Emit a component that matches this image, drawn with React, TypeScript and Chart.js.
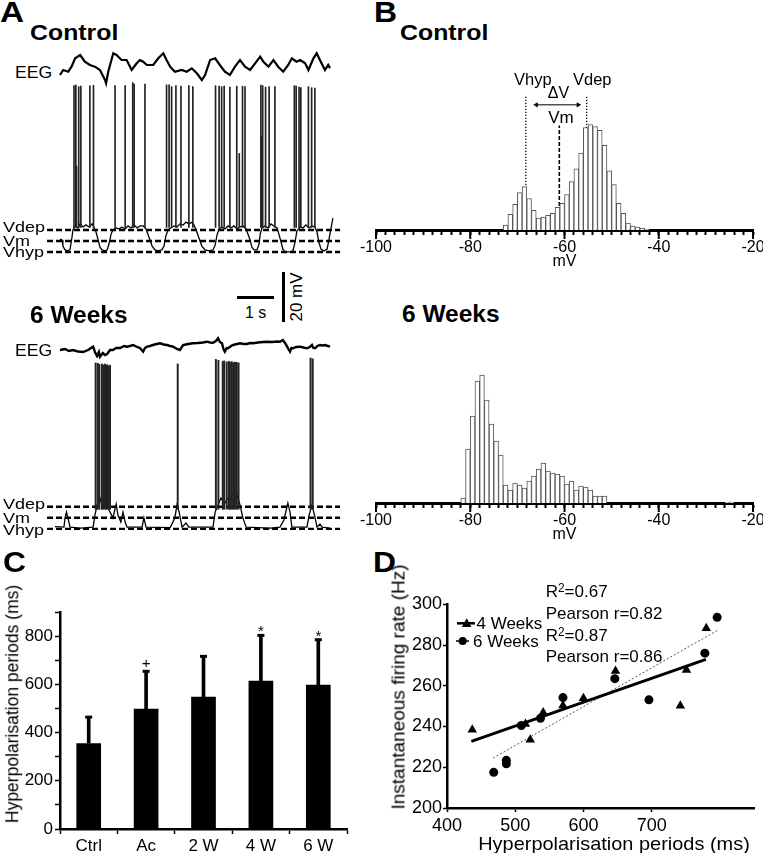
import React, { useEffect, useRef } from 'react';
import { Chart, registerables } from 'chart.js';

Chart.register(...registerables);
const FONT = '"Liberation Sans", Arial, Helvetica, sans-serif';
Chart.defaults.font.family = FONT;
Chart.defaults.color = '#000';

// ---------------- Panel A : traces (time in s, membrane potential in mV) ----------------
const levelLabels = ['Vdep', 'Vm', 'Vhyp'];
const ctrlLevels = [-55, -59.3, -63.6];
const w6Levels = [-55, -59.3, -63.7];
const levelSpan = [-0.36, 7.78];

const ctrlMembrane: [number, number][] = [
  [0, -58.6], [0.06, -58.9], [0.08, -61.3], [0.14, -62.8], [0.22, -63.2], [0.28, -62.5], [0.33, -58.1], [0.36, -55],
  [0.42, -53.4], [0.5, -54.2], [0.56, -52.6], [0.64, -53.8], [0.72, -53], [0.81, -53.8], [0.89, -52.6], [0.94, -53.8],
  [1, -55.8], [1.06, -58.9], [1.11, -61.7], [1.17, -62.8], [1.25, -63.2], [1.31, -62.8], [1.36, -60.5], [1.42, -56.6],
  [1.47, -55], [1.56, -54.2], [1.64, -54.6], [1.72, -53.8], [1.81, -54.6], [1.89, -53.4], [1.97, -54.2], [2.06, -53],
  [2.14, -54.2], [2.22, -53.4], [2.31, -53.4], [2.39, -54.6], [2.44, -56.6], [2.5, -58.9], [2.56, -61.3], [2.64, -62.8],
  [2.72, -63.2], [2.83, -62.8], [2.89, -61.3], [2.94, -57.4], [3, -55], [3.08, -54.2], [3.17, -53.4], [3.25, -53.8],
  [3.33, -52.6], [3.42, -53], [3.5, -51.9], [3.58, -52.6], [3.67, -51.9], [3.72, -53], [3.78, -55], [3.86, -58.1],
  [3.94, -61.3], [4.03, -62.8], [4.14, -63.2], [4.25, -62.8], [4.31, -60.9], [4.36, -57], [4.42, -54.6], [4.5, -53.8],
  [4.58, -54.6], [4.67, -53.4], [4.75, -54.2], [4.83, -53.4], [4.92, -54.6], [5, -53.8], [5.08, -53.4], [5.17, -54.6],
  [5.22, -56.6], [5.28, -58.9], [5.33, -61.7], [5.39, -62.8], [5.47, -62.8], [5.53, -60.5], [5.56, -56.6], [5.61, -54.2],
  [5.69, -53.4], [5.78, -54.2], [5.86, -52.6], [5.94, -53.4], [6.03, -54.2], [6.08, -56.6], [6.14, -59.7], [6.19, -62.5],
  [6.25, -63.6], [6.39, -63.6], [6.47, -63.2], [6.53, -59.7], [6.58, -55.4], [6.67, -53.8], [6.75, -54.2], [6.83, -53],
  [6.92, -54.2], [7, -53.4], [7.08, -53.8], [7.14, -55.8], [7.19, -59.7], [7.25, -62.5], [7.33, -63.2], [7.42, -62.5],
  [7.47, -58.9], [7.53, -54.2], [7.58, -50.3],
];
const ctrlSpikeTimes = [
  0.39, 0.44, 0.46, 0.52, 0.58, 0.83, 0.93,
  1.53, 1.81, 2.02, 2.06, 2.36,
  2.96, 3.03, 3.1, 3.22, 3.36, 3.58, 3.69,
  4.32, 4.42, 4.49, 4.56, 4.72, 4.91, 4.98, 5.07, 5.14,
  5.58, 5.6, 5.63, 5.71, 5.81, 5.97,
  6.51, 6.56, 6.64, 6.69, 6.9, 6.99, 7.08,
];
const ctrlSpikePeaks = [
  1.6, 1.8, -30, 1.2, 1.4, 1.5, 1.7,
  1.6, 1.6, 2.8, 2.2, 2.2,
  1.9, 1.9, 1.2, 1.6, 1.4, 1.6, 1.2,
  1.6, 1.4, 1.2, 1.4, 1.0, 1.4, -25, 1.4, 1.2,
  1.8, -18.5, 1.6, 1.0, 1.2, 1.2,
  1.6, 1.4, 1.0, 0.8, 1.2, 0.8, 0.6,
];
const ctrlEEG: [number, number][] = [
  [0, -7], [0.09, -2], [0.23, -3.7], [0.32, 1.3], [0.42, 9.7], [0.56, 13], [0.69, 6.3], [0.83, 3], [0.97, 1.3],
  [1.11, -2], [1.25, -12], [1.28, -15.3], [1.34, -3.7], [1.48, 14.7], [1.57, 13], [1.71, 8], [1.85, 8], [1.99, -2],
  [2.13, 4.7], [2.22, 8], [2.31, 6.3], [2.41, 3], [2.59, 3], [2.73, 9.7], [2.87, 14.7], [2.96, 8], [3.06, 1.3],
  [3.19, -3.7], [3.38, -2], [3.52, -3.7], [3.66, -0.3], [3.8, -5.3], [3.94, -12], [4.03, -7], [4.17, 8], [4.31, 9.7],
  [4.44, 3], [4.58, -3.7], [4.72, -7], [4.86, 1.3], [5, 8], [5.14, 1.3], [5.28, -2], [5.42, 4.7], [5.56, 11.3],
  [5.65, 6.3], [5.79, 1.3], [5.93, 8], [6.06, 1.3], [6.2, -3.7], [6.34, 3], [6.44, 9.7], [6.57, 6.3], [6.67, 8],
  [6.81, 4.7], [6.9, -2], [7.04, 9.7], [7.13, 14.7], [7.22, 8], [7.36, -2], [7.45, 3], [7.5, -0.3],
];

const w6Membrane: [number, number][] = [
  [-0.14, -62.8], [0.11, -63], [0.14, -59.4], [0.18, -57.1], [0.22, -59.4], [0.28, -63], [0.56, -63.4], [0.92, -63],
  [0.97, -58.3], [1.03, -54.3], [1.11, -51.6], [1.19, -55.5], [1.28, -53.2], [1.36, -56.3], [1.42, -57.9], [1.47, -59.4],
  [1.56, -54], [1.61, -58.3], [1.69, -61], [1.75, -57.1], [1.81, -61], [1.86, -63], [2.28, -63], [2.33, -59.4],
  [2.39, -63], [3.06, -63.2], [3.19, -59.4], [3.25, -54.3], [3.31, -57.1], [3.39, -63], [3.5, -61.4], [3.58, -63],
  [4.25, -63], [4.31, -57.1], [4.39, -54.3], [4.47, -51.6], [4.58, -53.6], [4.69, -51.2], [4.81, -52.8], [4.92, -50.5],
  [5, -54.3], [5.08, -59.4], [5.17, -63], [5.83, -63.4], [6.11, -63], [6.22, -60.2], [6.33, -53.6], [6.39, -57.1],
  [6.44, -63], [6.86, -63], [6.92, -58.3], [7, -54.3], [7.08, -59], [7.14, -63], [7.22, -61.8], [7.28, -63], [7.5, -63.4],
];
const w6SpikeTimes = [
  0.99, 1.05, 1.09, 1.16, 1.2, 1.25, 1.28, 1.31, 1.35, 1.39,
  3.27,
  4.33, 4.4, 4.52, 4.56, 4.63, 4.69, 4.72, 4.77, 4.81, 4.86, 4.91, 4.96,
  6.96, 7.02,
];
const w6SpikePeaks = [
  1.4, 1.2, 0.8, 1.0, 0.6, 0.9, 0.4, 0.7, 0.2, 0.5,
  1.0,
  2.8, 2.4, 2.0, 2.2, 1.8, 2.0, 1.6, 1.9, 1.5, 1.7, 1.6, 1.4,
  3.3, 3.0,
];
const w6EEG: [number, number][] = [
  [0, -2], [0.14, -1], [0.25, -3], [0.36, -2], [0.5, -3.5], [0.64, -4], [0.78, -2], [0.92, 1.3], [0.97, -4],
  [1.03, -8], [1.08, -4], [1.11, -8.7], [1.19, -5], [1.25, -7], [1.31, -6], [1.39, -2], [1.47, -2], [1.56, 0],
  [1.67, 0], [1.78, 2], [1.86, 1.3], [1.94, 2], [2.03, 3], [2.14, 1], [2.22, 0], [2.31, -3.7], [2.36, 0], [2.42, 1.3],
  [2.5, 2], [2.58, 3], [2.69, 4], [2.78, 4.7], [2.88, 3.5], [2.97, 3], [3.06, 2], [3.14, 1.3], [3.25, -1], [3.33, -2],
  [3.42, 3], [3.56, 4], [3.69, 4.7], [3.83, 5], [3.97, 5.5], [4.08, 6.3], [4.17, 5.5], [4.25, 5.3], [4.33, 7],
  [4.39, 9.7], [4.44, 6], [4.5, 4.7], [4.54, -1], [4.58, -3.7], [4.63, 0], [4.67, -0.3], [4.75, 2], [4.81, 3],
  [4.92, 4], [5, 4.7], [5.1, 4], [5.19, 4], [5.28, 5], [5.36, 4.7], [5.5, 5.5], [5.64, 6], [5.75, 6.3], [5.9, 6],
  [6.03, 6.5], [6.11, 6.3], [6.19, 8], [6.25, 5], [6.31, 1.3], [6.36, -2], [6.39, -3.7], [6.43, 0], [6.47, -0.3],
  [6.56, 1], [6.67, 1.3], [6.76, 0.5], [6.86, -0.3], [6.94, 1], [7, 3], [7.04, 0], [7.08, -0.3], [7.15, 2], [7.22, 3],
  [7.29, 2.5], [7.36, 3], [7.44, 2], [7.5, 1.3],
];

// ---------------- Panel B : histograms (1 mV bins, left edge) ----------------
const ctrlBins = [-73, -72, -71, -70, -69, -68, -67, -66, -65, -64, -63, -62, -61, -60, -59, -58, -57, -56, -55, -54, -53, -52, -51, -50, -49, -48, -47, -46, -45, -44, -43];
const ctrlCounts = [5, 16, 26, 38, 44, 32, 20, 12, 13, 15, 17, 23, 27, 36, 49, 62, 78, 104, 107, 105, 101, 86, 60, 46, 27, 17, 7, 4, 3, 2, 1];
const w6Bins = [-82, -81, -80, -79, -78, -77, -76, -75, -74, -73, -72, -71, -70, -69, -68, -67, -66, -65, -64, -63, -62, -61, -60, -59, -58, -57, -56, -55, -54, -53, -52, -26, -25];
const w6Counts = [5, 54, 87, 122, 128, 103, 79, 62, 48, 18, 13, 20, 18, 15, 22, 27, 34, 40, 32, 30, 29, 27, 19, 22, 13, 17, 16, 13, 7, 7, 7, 1, 1];
const ctrlMarkerValues = [-68.2, -61.1, -55.3]; // Vhyp, Vm, Vdep
const ctrlMarkerTops = [137, 106, 137];
const deltaArrow = [-66, -57.1];
const deltaArrowLevel = 127;

// ---------------- Panel C : bar chart ----------------
const barCategories = ['Ctrl', 'Ac', '2 W', '4 W', '6 W'];
const barMeans = [356, 499, 549, 615, 598];
const barErrors = [108, 155, 167, 188, 187];
const sigMarks = ['', '+', '', '*', '*'];

// ---------------- Panel D : scatter ----------------
const weeks4Points: [number, number][] = [
  [437, 238.4], [515, 241.2], [522, 233.5], [541, 246.9], [570, 250.3], [600, 253.9], [647, 267.3], [742, 250.2], [751, 267.8], [780, 288.2],
];
const weeks6Points: [number, number][] = [
  [468.5, 217.5], [487, 221.7], [487, 223.4], [509, 240.5], [537, 244], [570, 254.2], [646, 263.5], [696, 253.1], [778, 276], [796, 293.6],
];
const fit4: [number, number][] = [[435.7, 232.7], [779.5, 273]];
const fit6: [number, number][] = [[467.5, 224.5], [797.6, 287.4]];

// ---------------- helpers ----------------
const T_MIN = -20 / 36;
const T_MAX = 285 / 36;

const common = () => ({
  responsive: false,
  maintainAspectRatio: false,
  animation: false as const,
  devicePixelRatio: 1,
  events: [] as any[],
  plugins: { legend: { display: false }, tooltip: { enabled: false } },
});

function traceConfig(membrane: [number, number][], spikeT: number[], spikeP: number[], spikeBase: number, levels: number[], yMin: number, yMax: number, spikeW: number) {
  return {
    type: 'line',
    data: {
      datasets: [
        {
          type: 'bar',
          data: spikeT.map((t, i) => ({ x: t, y: [spikeBase, spikeP[i]] })),
          backgroundColor: '#222',
          borderWidth: 0,
          barThickness: spikeW,
        },
        {
          data: membrane.map(([t, v]) => ({ x: t, y: v })),
          borderColor: '#000',
          borderWidth: 1.3,
          pointRadius: 0,
          tension: 0,
        },
        ...levels.map((v) => ({
          data: [{ x: levelSpan[0], y: v }, { x: levelSpan[1], y: v }],
          borderColor: '#000',
          borderWidth: 2.4,
          borderDash: [6, 3],
          pointRadius: 0,
        })),
      ],
    },
    options: {
      ...common(),
      layout: { padding: 0 },
      scales: {
        x: { type: 'linear', min: T_MIN, max: T_MAX, display: false, offset: false },
        y: { type: 'linear', min: yMin, max: yMax, display: false },
      },
    },
  };
}

function eegConfig(points: [number, number][], yMin: number, yMax: number, w: number) {
  return {
    type: 'line',
    data: {
      datasets: [{ data: points.map(([t, v]) => ({ x: t, y: v })), borderColor: '#000', borderWidth: w, pointRadius: 0, tension: 0 }],
    },
    options: {
      ...common(),
      layout: { padding: 0 },
      scales: {
        x: { type: 'linear', min: T_MIN, max: T_MAX, display: false },
        y: { type: 'linear', min: yMin, max: yMax, display: false },
      },
    },
  };
}

const majorTicksPlugin = {
  id: 'majorTicks',
  afterDraw(chart: any) {
    const s = chart.scales.x;
    const ctx = chart.ctx;
    ctx.save();
    ctx.strokeStyle = '#000';
    ctx.lineWidth = 2;
    s.ticks.forEach((t: any) => {
      if (t.value % 20 === 0) {
        const px = s.getPixelForValue(t.value);
        ctx.beginPath();
        ctx.moveTo(px, s.top);
        ctx.lineTo(px, s.top + 9);
        ctx.stroke();
      }
    });
    ctx.restore();
  },
};

function histConfig(bins: number[], counts: number[], yMax: number, withMarkers: boolean) {
  const datasets: any[] = [
    {
      type: 'bar',
      data: bins.map((b, i) => ({ x: b + 0.5, y: counts[i] })),
      backgroundColor: '#fff',
      borderColor: '#555',
      borderWidth: 1,
      barPercentage: 1,
      categoryPercentage: 1,
    },
  ];
  if (withMarkers) {
    ctrlMarkerValues.forEach((v, i) => {
      datasets.push({
        type: 'line',
        data: [{ x: v, y: 0 }, { x: v, y: ctrlMarkerTops[i] }],
        borderColor: '#000',
        borderWidth: i === 1 ? 1.6 : 1.3,
        borderDash: i === 1 ? [4, 2] : [1.3, 1.7],
        pointRadius: 0,
      });
    });
    datasets.push({
      type: 'line',
      data: [{ x: deltaArrow[0], y: deltaArrowLevel }, { x: deltaArrow[1], y: deltaArrowLevel }],
      borderColor: '#000',
      borderWidth: 1,
      pointStyle: 'triangle',
      pointRadius: 3,
      pointRotation: [-90, 90],
      pointBackgroundColor: '#000',
      pointBorderWidth: 0,
    });
  }
  return {
    type: 'bar',
    data: { datasets },
    options: {
      ...common(),
      layout: { padding: { left: 20, right: 23, top: 2, bottom: 0 } },
      scales: {
        x: {
          type: 'linear',
          min: -100,
          max: -20,
          offset: false,
          ticks: {
            stepSize: 2,
            autoSkip: false,
            maxRotation: 0,
            padding: 3,
            color: '#000',
            font: { size: 16, family: FONT },
            callback: (v: number) => (v % 20 === 0 ? String(v) : ''),
          },
          grid: { drawOnChartArea: false, offset: false, tickLength: 5, tickWidth: 2, color: '#000' },
          border: { color: '#000', width: 3 },
          title: { display: true, text: 'mV', color: '#000', font: { size: 16, family: FONT }, padding: 0 },
          afterFit: (s: any) => { s.height = 41; },
        },
        y: { type: 'linear', min: 0, max: yMax, display: false },
      },
    },
    plugins: [majorTicksPlugin],
  };
}

const sigPlugin = {
  id: 'sigMarks',
  afterDatasetsDraw(chart: any) {
    const { ctx } = chart;
    const x = chart.scales.x;
    const y = chart.scales.y;
    ctx.save();
    ctx.fillStyle = '#000';
    ctx.textAlign = 'center';
    ctx.textBaseline = 'alphabetic';
    ctx.font = `15px ${FONT}`;
    sigMarks.forEach((m, i) => {
      if (!m) return;
      const px = x.getPixelForValue(i);
      const py = y.getPixelForValue(barMeans[i] + barErrors[i]);
      ctx.fillText(m, px, py + (m === '+' ? -3 : 1));
    });
    ctx.restore();
  },
};

function barConfig() {
  return {
    type: 'bar',
    data: {
      labels: barCategories,
      datasets: [
        {
          type: 'line',
          data: barMeans.map((m, i) => m + barErrors[i]),
          showLine: false,
          pointStyle: 'line',
          pointRadius: 3.5,
          pointBorderWidth: 3,
          borderColor: '#000',
        },
        {
          data: barMeans.map((m, i) => [m, m + barErrors[i]]),
          backgroundColor: '#000',
          barThickness: 3,
          grouped: false,
        },
        {
          data: barMeans,
          backgroundColor: '#000',
          barPercentage: 0.43,
          categoryPercentage: 1,
          grouped: false,
        },
      ],
    },
    options: {
      ...common(),
      layout: { padding: { left: 0, top: 16, right: 13, bottom: 0 } },
      scales: {
        x: {
          ticks: { color: '#000', font: { size: 17, family: FONT }, padding: 2, maxRotation: 0 },
          grid: { drawOnChartArea: false, tickLength: 5, tickWidth: 1.5, color: '#000' },
          border: { color: '#000', width: 2.5 },
          afterFit: (s: any) => { s.height = 24; },
        },
        y: {
          min: 0,
          max: 900,
          ticks: {
            stepSize: 100,
            color: '#000',
            padding: 2,
            font: { size: 17, family: FONT },
            callback: (v: number) => (v % 200 === 0 ? String(v) : ''),
          },
          grid: { drawOnChartArea: false, tickLength: 5, tickWidth: 1.5, color: '#000' },
          border: { color: '#000', width: 2.5 },
          afterFit: (s: any) => { s.width = 60; },
        },
      },
    },
    plugins: [sigPlugin],
  };
}

function scatterConfig() {
  return {
    type: 'scatter',
    data: {
      datasets: [
        {
          data: weeks4Points.map(([x, y]) => ({ x, y })),
          pointStyle: 'triangle',
          pointRadius: 5.5,
          pointBackgroundColor: '#000',
          pointBorderWidth: 0,
        },
        {
          data: weeks6Points.map(([x, y]) => ({ x, y })),
          pointStyle: 'circle',
          pointRadius: 4.5,
          pointBackgroundColor: '#000',
          pointBorderWidth: 0,
        },
        {
          type: 'line',
          data: fit4.map(([x, y]) => ({ x, y })),
          showLine: true,
          borderColor: '#000',
          borderWidth: 3,
          pointRadius: 0,
        },
        {
          type: 'line',
          data: fit6.map(([x, y]) => ({ x, y })),
          showLine: true,
          borderColor: '#555',
          borderWidth: 1,
          borderDash: [2, 2],
          pointRadius: 0,
        },
      ],
    },
    options: {
      ...common(),
      layout: { padding: { left: 0, top: 14.3, right: 9, bottom: 0 } },
      scales: {
        x: {
          type: 'linear',
          min: 400,
          max: 850,
          ticks: { stepSize: 100, color: '#000', padding: 3, font: { size: 18, family: FONT }, maxRotation: 0 },
          afterBuildTicks: (s: any) => { s.ticks = s.ticks.filter((t: any) => t.value % 100 === 0); },
          grid: { drawOnChartArea: false, tickLength: 4, tickWidth: 1.5, color: '#000' },
          border: { color: '#000', width: 2.5 },
          afterFit: (s: any) => { s.height = 45; },
        },
        y: {
          type: 'linear',
          min: 200,
          max: 300,
          ticks: { stepSize: 20, color: '#000', padding: 1, font: { size: 18, family: FONT } },
          grid: { drawOnChartArea: false, tickLength: 4, tickWidth: 1.5, color: '#000' },
          border: { color: '#000', width: 2.5 },
          afterFit: (s: any) => { s.width = 47; },
        },
      },
    },
  };
}

function ChartBox({ x, y, w, h, make }: { x: number; y: number; w: number; h: number; make: () => any }) {
  const ref = useRef<HTMLCanvasElement>(null);
  useEffect(() => {
    const chart = new Chart(ref.current as HTMLCanvasElement, make());
    return () => chart.destroy();
  }, []);
  return <canvas ref={ref} width={w} height={h} style={{ position: 'absolute', left: x, top: y, width: w, height: h }} />;
}

function T({ x, cy, size, bold = false, sx = 1, center = false, children }: any) {
  const style: React.CSSProperties = {
    position: 'absolute',
    left: x,
    top: cy - size * 0.49,
    fontSize: size,
    lineHeight: `${size}px`,
    fontWeight: bold ? 700 : 400,
    whiteSpace: 'nowrap',
    transformOrigin: center ? 'center center' : 'left center',
    transform: `${center ? 'translateX(-50%) ' : ''}scaleX(${sx})`,
  };
  return <div style={style}>{children}</div>;
}

function VT({ cx, cy, size, children }: any) {
  return (
    <div
      style={{
        position: 'absolute',
        left: cx,
        top: cy,
        fontSize: size,
        lineHeight: `${size}px`,
        whiteSpace: 'nowrap',
        transform: 'translate(-50%, -50%) rotate(-90deg)',
      }}
    >
      {children}
    </div>
  );
}

export default function App() {
  const ctrlLabelY = [226.5, 240.2, 251.7];
  const w6LabelY = [503.2, 517.2, 529];
  return (
    <div style={{ position: 'absolute', left: 0, top: 0, width: 763, height: 853, overflow: 'hidden', background: '#fff', fontFamily: FONT, color: '#000' }}>
      {/* Panel A */}
      <T x={0} cy={12.5} size={29} bold sx={1.15}>A</T>
      <T x={30} cy={32.5} size={22} bold sx={1.13}>Control</T>
      <T x={15} cy={72.5} size={16} sx={1.1}>EEG</T>
      <ChartBox x={40} y={45} w={305} h={45} make={() => eegConfig(ctrlEEG, -22, 23, 2.2)} />
      <ChartBox x={40} y={78} w={305} h={182} make={() => traceConfig(ctrlMembrane, ctrlSpikeTimes, ctrlSpikePeaks, -54, ctrlLevels, -66.76, 4.6, 1)} />
      {levelLabels.map((l, i) => (
        <T key={'c' + l} x={3} cy={ctrlLabelY[i]} size={15} sx={1.2}>{l}</T>
      ))}

      <div style={{ position: 'absolute', left: 236.7, top: 295.5, width: 37.3, height: 3, background: '#000' }} />
      <div style={{ position: 'absolute', left: 282, top: 272, width: 3, height: 50, background: '#000' }} />
      <T x={245} cy={312.5} size={16}>1 s</T>
      <VT cx={295.5} cy={297} size={17}>20 mV</VT>

      <T x={30} cy={315} size={23} bold sx={1.065}>6 Weeks</T>
      <T x={15} cy={350.8} size={16} sx={1.1}>EEG</T>
      <ChartBox x={40} y={328} w={305} h={40} make={() => eegConfig(w6EEG, -20, 20, 2.4)} />
      <ChartBox x={40} y={352} w={305} h={182} make={() => traceConfig(w6Membrane, w6SpikeTimes, w6SpikePeaks, -56, w6Levels, -65.7, 5.67, 1.3)} />
      {levelLabels.map((l, i) => (
        <T key={'w' + l} x={3} cy={w6LabelY[i]} size={15} sx={1.2}>{l}</T>
      ))}

      {/* Panel B */}
      <T x={374} cy={12.5} size={29} bold sx={1.1}>B</T>
      <T x={400} cy={33} size={22} bold sx={1.13}>Control</T>
      <ChartBox x={356} y={88} w={420} h={183} make={() => histConfig(ctrlBins, ctrlCounts, 140, true)} />
      <T x={514} cy={79.5} size={16.5}>Vhyp</T>
      <T x={573} cy={79.5} size={16.5}>Vdep</T>
      <T x={558.5} cy={92.8} size={16} center>ΔV</T>
      <T x={561} cy={117.5} size={17} center>Vm</T>

      <T x={401.7} cy={314} size={23} bold sx={1.065}>6 Weeks</T>
      <ChartBox x={356} y={361} w={420} h={183} make={() => histConfig(w6Bins, w6Counts, 140, false)} />

      {/* Panel C */}
      <T x={3} cy={562} size={29} bold sx={1.1}>C</T>
      <ChartBox x={0} y={596} w={360} h={257} make={barConfig} />
      <VT cx={12.7} cy={704} size={17.5}>Hyperpolarisation periods (ms)</VT>

      {/* Panel D */}
      <T x={373} cy={562} size={29} bold sx={1.1}>D</T>
      <ChartBox x={400} y={590} w={363} h={263} make={scatterConfig} />
      <VT cx={398} cy={687} size={19}>Instantaneous firing rate (Hz)</VT>
      <T x={614} cy={843.5} size={19} sx={1.05} center>Hyperpolarisation periods (ms)</T>
      <svg style={{ position: 'absolute', left: 450, top: 610, width: 30, height: 40 }} width={30} height={40}>
        <line x1={7} y1={13.3} x2={25} y2={13.3} stroke="#000" strokeWidth={2.5} />
        <polygon points="16.7,8.3 11.9,17 21.5,17" fill="#000" />
        <line x1={6} y1={31} x2={21} y2={31} stroke="#000" strokeWidth={1.5} strokeDasharray="3,2" />
        <circle cx={12.7} cy={31} r={4} fill="#000" />
      </svg>
      <T x={476.5} cy={623} size={17}>4 Weeks</T>
      <T x={473} cy={641} size={17}>6 Weeks</T>
      <T x={545.7} cy={591.5} size={17}>R<sup style={{ fontSize: '0.7em', verticalAlign: '0.45em', lineHeight: 0 }}>2</sup>=0.67</T>
      <T x={545.7} cy={613.3} size={17}>Pearson r=0.82</T>
      <T x={545.7} cy={635} size={17}>R<sup style={{ fontSize: '0.7em', verticalAlign: '0.45em', lineHeight: 0 }}>2</sup>=0.87</T>
      <T x={545.7} cy={656.7} size={17}>Pearson r=0.86</T>
    </div>
  );
}
